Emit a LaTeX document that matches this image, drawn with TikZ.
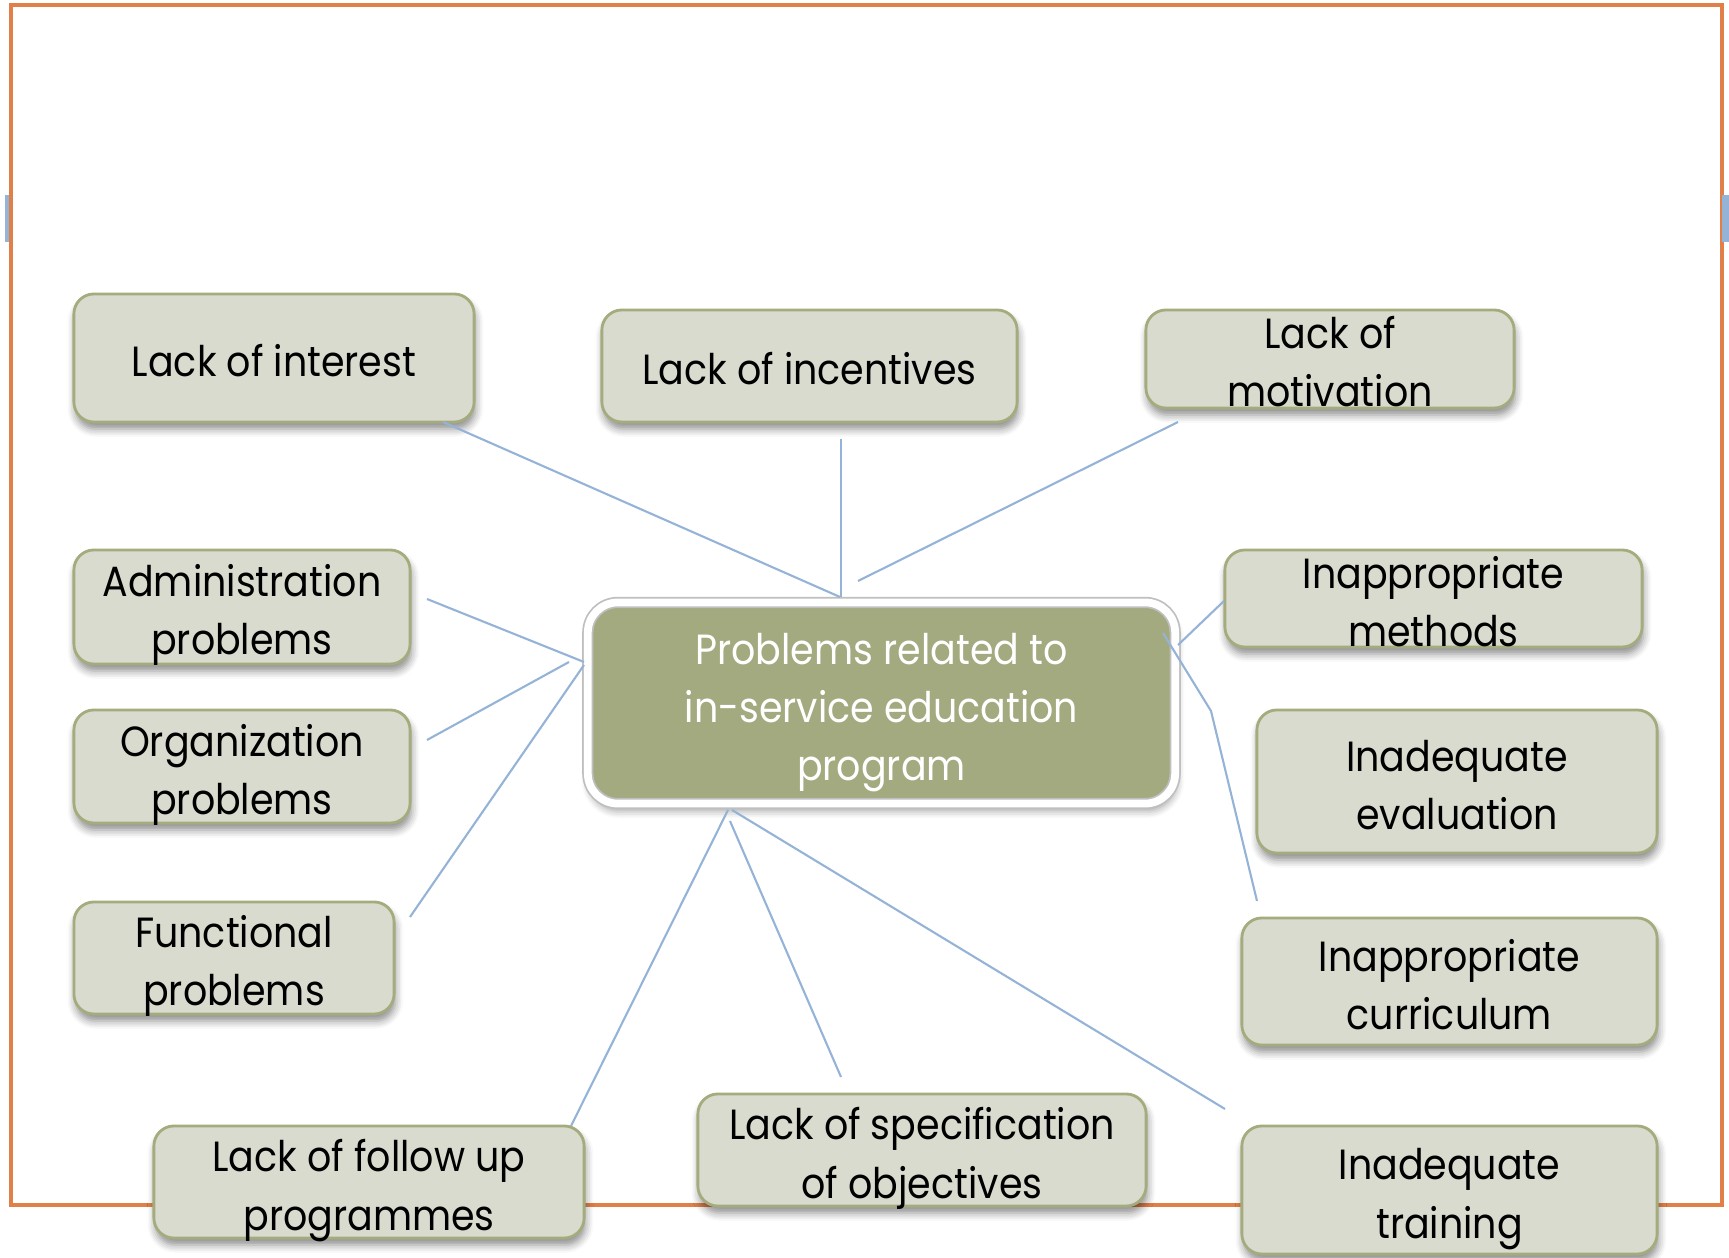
\documentclass[tikz,border=0pt]{standalone}
\usepackage{fontspec}
\setmainfont{Poppins}[FakeStretch=0.9]
\usetikzlibrary{shadows.blur}

\definecolor{framecol}{HTML}{E08048}
\definecolor{linkcol}{HTML}{95B3D7}
\definecolor{boxfill}{HTML}{D8DBCD}
\definecolor{boxline}{HTML}{A4AB7D}
\definecolor{hubfill}{HTML}{A3AA7F}

\tikzset{
    probbox/.style={draw=boxline, line width=0.8pt, fill=boxfill, rounded corners=0.2cm,
        align=center, inner sep=0pt, font=\fontsize{12}{16.5}\selectfont,
        blur shadow={shadow xshift=0.4pt, shadow yshift=-2pt, shadow blur steps=5, shadow opacity=45}},
    hubbox/.style={draw=black!25, double=white, double distance=2.2pt, line width=0.5pt,
        fill=hubfill, rounded corners=0.3cm, text=white,
        align=center, inner sep=0pt, font=\fontsize{12}{16.5}\selectfont,
        blur shadow={shadow xshift=0.4pt, shadow yshift=-2pt, shadow blur steps=5, shadow opacity=40}},
    oneline/.style={text height=10.5pt, text depth=0pt},
    twolines/.style={text height=27.3pt, text depth=0pt},
    threelines/.style={text height=44pt, text depth=0pt},
    link/.style={draw=linkcol, line width=0.6pt}
}

\begin{document}
\begin{tikzpicture}[x=0.01cm, y=-0.01cm]
    \useasboundingbox (0,0) rectangle (1729,1258);

    % frame
    \draw[framecol, line width=0.04cm] (11,5.5) rectangle (1722,1205);
    \fill[linkcol] (5,195) rectangle (9,242);
    \fill[linkcol] (1722,195) rectangle (1729,242);

    \coordinate (P0) at (881.5,703);
    \coordinate (P1) at (274,358);
    \coordinate (P2) at (809.5,366);
    \coordinate (P3) at (1330,359);
    \coordinate (P4) at (242,607);
    \coordinate (P5) at (242,766.5);
    \coordinate (P6) at (234,958);
    \coordinate (P7) at (1433.5,598.5);
    \coordinate (P8) at (1457,781.5);
    \coordinate (P9) at (1449.5,981.5);
    \coordinate (P10) at (1449.5,1190);
    \coordinate (P11) at (922,1150);
    \coordinate (P12) at (369,1182);

    \node[hubbox, threelines, minimum width=5.87cm, minimum height=2.01cm] (hub) at (P0)
        {Problems related to\\in-service education\\program};
    \node[probbox, oneline, minimum width=4cm, minimum height=1.28cm] (interest) at (P1) {Lack of interest};
    \node[probbox, oneline, minimum width=4.15cm, minimum height=1.12cm] (incent) at (P2) {Lack of incentives};
    \node[probbox, twolines, minimum width=3.68cm, minimum height=0.98cm] (motiv) at (P3) {Lack of\\motivation};
    \node[probbox, twolines, minimum width=3.36cm, minimum height=1.14cm] (admin) at (P4) {Administration\\problems};
    \node[probbox, twolines, minimum width=3.36cm, minimum height=1.13cm] (organ) at (P5) {Organization\\problems};
    \node[probbox, twolines, minimum width=3.2cm, minimum height=1.12cm] (funct) at (P6) {Functional\\problems};
    \node[probbox, twolines, minimum width=4.17cm, minimum height=0.97cm] (methods) at (P7) {Inappropriate\\methods};
    \node[probbox, twolines, minimum width=4cm, minimum height=1.43cm] (evalu) at (P8) {Inadequate\\evaluation};
    \node[probbox, twolines, minimum width=4.15cm, minimum height=1.27cm] (curric) at (P9) {Inappropriate\\curriculum};
    \node[probbox, twolines, minimum width=4.15cm, minimum height=1.28cm] (train) at (P10) {Inadequate\\training};
    \node[probbox, twolines, minimum width=4.48cm, minimum height=1.12cm] (spec) at (P11) {Lack of specification\\of objectives};
    \node[probbox, twolines, minimum width=4.3cm, minimum height=1.12cm] (follow) at (P12) {Lack of follow up\\programmes};

    \coordinate (E1) at (443,422);
    \coordinate (H1) at (840,597);
    \coordinate (E2) at (841,439);
    \coordinate (H2) at (841,597);
    \coordinate (E3) at (1178,422);
    \coordinate (H3) at (858,581);
    \coordinate (E4) at (427,599);
    \coordinate (H4) at (584,662);
    \coordinate (E5) at (427,740);
    \coordinate (H5) at (569,662);
    \coordinate (E6) at (410,917);
    \coordinate (H6) at (584,665);
    \coordinate (E7) at (1224,601);
    \coordinate (H7) at (1178,645);
    \coordinate (E8) at (1257,901);
    \coordinate (K8) at (1211,711);
    \coordinate (H8) at (1163,633);
    \coordinate (E9) at (571,1126);
    \coordinate (H9) at (728,810);
    \coordinate (E10) at (841,1077);
    \coordinate (H10) at (730,821);
    \coordinate (E11) at (1225,1109);
    \coordinate (H11) at (732,810);

    \draw[link] (E1) -- (H1);
    \draw[link] (E2) -- (H2);
    \draw[link] (E3) -- (H3);
    \draw[link] (E4) -- (H4);
    \draw[link] (E5) -- (H5);
    \draw[link] (E6) -- (H6);
    \draw[link] (E7) -- (H7);
    \draw[link] (E8) -- (K8) -- (H8);
    \draw[link] (E9) -- (H9);
    \draw[link] (E10) -- (H10);
    \draw[link] (E11) -- (H11);
\end{tikzpicture}
\end{document}
